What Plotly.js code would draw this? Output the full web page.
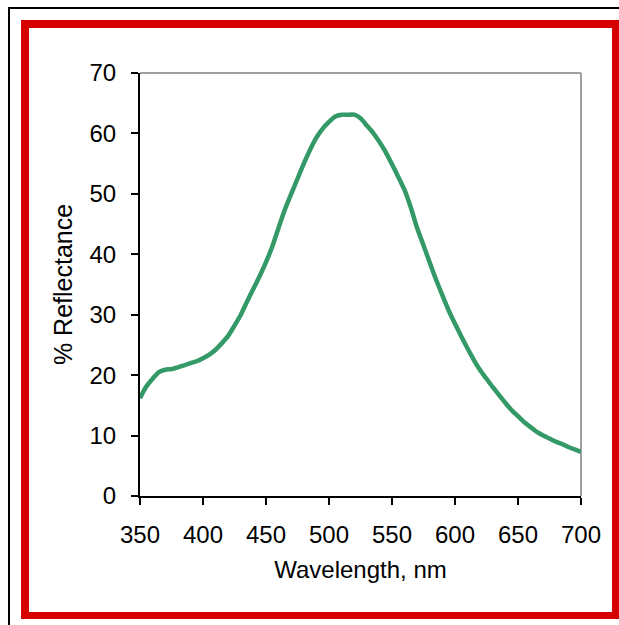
<!DOCTYPE html>
<html>
<head>
<meta charset="utf-8">
<script src="https://cdn.plot.ly/plotly-3.0.1.min.js"></script>
<style>
  html, body { margin: 0; padding: 0; background: #ffffff; overflow: hidden; }
  #wrap { position: relative; width: 619px; height: 625px; }
  #blackframe { position: absolute; left: 8px; top: 7px; width: 700px; height: 700px; border: 2px solid #000; box-sizing: border-box; pointer-events: none; }
  #redframe { position: absolute; left: 21px; top: 20px; width: 598px; height: 599px; box-sizing: border-box;
              border-style: solid; border-color: #d60000; border-width: 8px 7px 7px 8px; pointer-events: none; }
  #chart { position: absolute; left: 0; top: 0; width: 619px; height: 625px; }
</style>
</head>
<body>
<div id="wrap">
  <div id="blackframe"></div>
  <div id="chart"></div>
  <div id="redframe"></div>
</div>
<script>
const wavelength = [350,355,360,365,370,375,380,385,390,395,400,405,410,415,420,425,430,435,440,445,
  450,455,460,465,470,475,480,485,490,495,500,505,510,515,520,525,530,535,540,545,
  550,555,560,565,570,575,580,585,590,595,600,605,610,615,620,625,630,635,640,645,
  650,655,660,665,670,675,680,685,690,695,700];
const reflectance = [16.2,18.1,19.4,20.5,20.9,21.0,21.3,21.6,22.0,22.3,22.8,23.4,24.2,25.3,26.5,28.2,30.0,32.2,34.3,36.4,
  38.7,41.3,44.4,47.4,50.0,52.5,55.0,57.3,59.3,60.8,61.9,62.8,63.1,63.1,63.1,62.5,61.3,60.1,58.6,56.9,
  54.9,52.8,50.6,47.7,44.3,41.5,38.6,35.8,33.2,30.7,28.5,26.4,24.4,22.5,20.8,19.4,18.0,16.7,15.4,14.2,
  13.2,12.2,11.4,10.6,10.0,9.5,9.0,8.6,8.1,7.7,7.3];
const xTicks = [350,400,450,500,550,600,650,700];
const yTicks = [0,10,20,30,40,50,60,70];

const font = { family: '"Liberation Sans", Arial, sans-serif', size: 24, color: '#000' };
const yTitleFont = { family: '"Liberation Sans", Arial, sans-serif', size: 25, color: '#000' };

const trace = {
  x: wavelength, y: reflectance, type: 'scatter', mode: 'lines',
  line: { color: '#339966', width: 4.5, shape: 'spline', smoothing: 0.6 }, hoverinfo: 'skip'
};

const layout = {
  width: 619, height: 625,
  margin: { l: 140, r: 38, t: 73, b: 129, pad: 0 },
  paper_bgcolor: 'rgba(0,0,0,0)', plot_bgcolor: '#ffffff',
  showlegend: false,
  font: font,
  xaxis: {
    range: [350, 700], tickvals: xTicks, ticktext: xTicks.map(String),
    showgrid: false, zeroline: false, showline: true, linecolor: '#000', linewidth: 2,
    ticks: 'outside', ticklen: 7, tickwidth: 2, tickcolor: '#000',
    tickfont: font, ticklabelstandoff: 9,
    title: { text: 'Wavelength, nm', font: font, standoff: 14 }
  },
  yaxis: {
    range: [0, 70], tickvals: yTicks, ticktext: yTicks.map(String),
    showgrid: false, zeroline: false, showline: true, linecolor: '#000', linewidth: 2,
    ticks: 'outside', ticklen: 7, tickwidth: 2, tickcolor: '#000',
    tickfont: font, ticklabelstandoff: 10,
    title: { text: '% Reflectance', font: yTitleFont, standoff: 10 }
  },
  shapes: [
    { type: 'line', xref: 'paper', yref: 'paper', x0: 0, x1: 1, y0: 1, y1: 1, layer: 'below', line: { color: '#a0a0a0', width: 2 } },
    { type: 'line', xref: 'paper', yref: 'paper', x0: 1, x1: 1, y0: 0, y1: 1, layer: 'below', line: { color: '#a0a0a0', width: 2 } }
  ]
};

Plotly.newPlot('chart', [trace], layout, { displayModeBar: false, staticPlot: true });
</script>
</body>
</html>
